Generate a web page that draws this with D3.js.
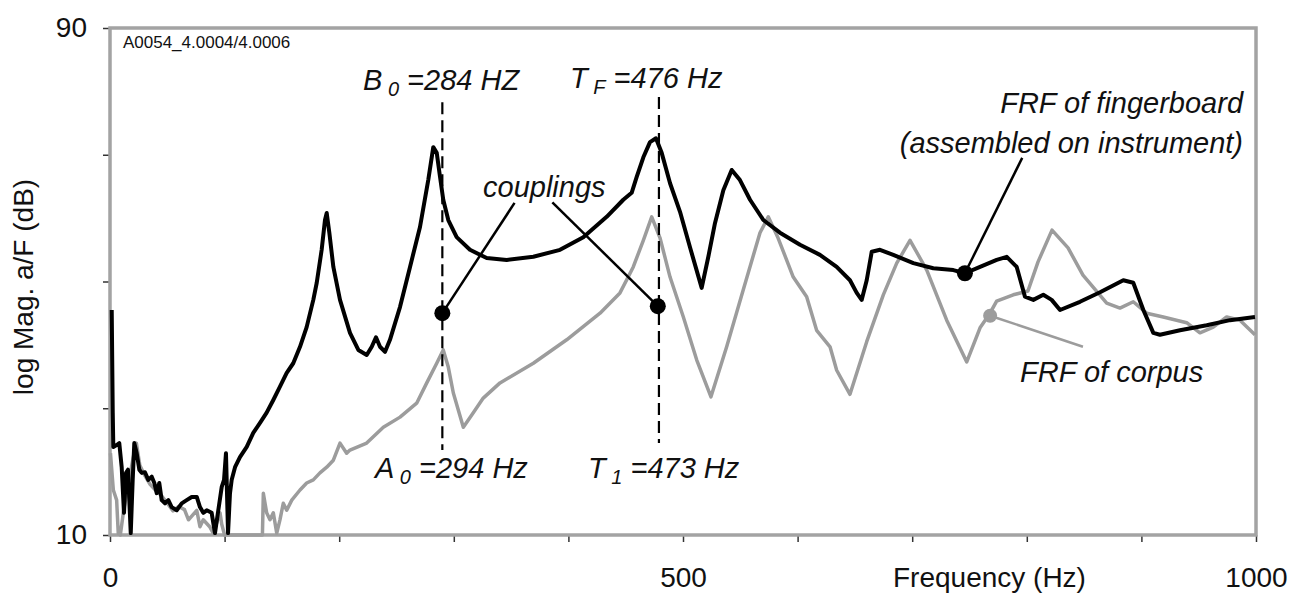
<!DOCTYPE html>
<html>
<head>
<meta charset="utf-8">
<script src="https://cdn.jsdelivr.net/npm/d3@7"></script>
<style>
  body { margin: 0; background: #fff; }
  svg { display: block; font-family: "Liberation Sans", Arial, sans-serif; }
</style>
</head>
<body>
<div id="container"></div>
<script>
// Data (frequency in Hz, magnitude in dB)
const fingerboardHz = [1.5, 2.4, 2.9, 5.8, 8.1, 10.2, 12.2, 14.0, 15.7, 18.1, 19.8, 21.2, 23.3, 25.6, 27.7, 30.5, 33.4, 36.4, 38.7, 40.8, 43.0, 45.1, 48.0, 50.9, 53.8, 58.2, 62.6, 66.9, 71.3, 75.7, 78.5, 81.4, 84.4, 88.7, 91.6, 94.5, 97.5, 99.5, 101.2, 103.0, 104.7, 106.2, 109.1, 113.4, 119.3, 125.0, 130.9, 136.7, 142.5, 148.3, 154.2, 159.9, 165.8, 171.6, 177.4, 180.4, 184.7, 187.6, 189.1, 191.4, 194.9, 200.7, 209.4, 216.7, 224.0, 228.4, 232.1, 235.6, 240.0, 244.3, 253.1, 261.8, 270.5, 277.7, 282.1, 285.1, 288.0, 290.8, 295.2, 302.5, 314.1, 328.7, 346.2, 369.4, 392.7, 413.0, 433.4, 447.9, 455.2, 459.6, 465.4, 471.2, 476.4, 481.4, 488.7, 497.4, 506.1, 516.3, 522.1, 527.9, 535.2, 542.5, 549.7, 558.5, 570.1, 584.6, 602.1, 619.5, 634.1, 645.7, 651.6, 655.9, 660.3, 664.7, 671.9, 683.5, 701.0, 718.4, 735.9, 746.1, 759.2, 773.7, 782.5, 791.2, 798.4, 805.7, 814.4, 821.7, 829.0, 846.4, 863.9, 884.2, 892.9, 901.7, 910.4, 916.2, 933.7, 957.0, 977.3, 999.1];
const fingerboardDb = [45.5, 29.3, 23.9, 24.2, 24.5, 20.7, 13.5, 19.8, 20.3, 10.3, 18.7, 24.5, 22.9, 20.3, 19.8, 19.9, 18.7, 19.2, 18.2, 16.6, 18.2, 15.5, 15.0, 15.5, 14.4, 13.9, 15.0, 15.5, 16.0, 16.0, 14.4, 13.5, 13.9, 13.5, 10.3, 13.9, 17.6, 18.7, 22.9, 10.3, 16.6, 18.7, 20.7, 22.3, 23.9, 26.1, 27.7, 29.3, 31.3, 33.4, 35.6, 37.1, 39.7, 42.8, 47.1, 49.8, 55.0, 59.7, 60.8, 57.7, 52.3, 47.1, 41.9, 39.2, 38.4, 39.7, 41.2, 39.7, 38.9, 40.8, 46.0, 52.3, 58.6, 66.0, 71.2, 70.3, 66.5, 62.9, 59.7, 57.0, 55.0, 53.7, 53.4, 53.9, 55.0, 57.0, 60.2, 62.9, 64.0, 66.5, 69.6, 72.0, 72.6, 70.3, 65.5, 61.0, 55.4, 49.0, 53.9, 59.2, 64.4, 67.6, 66.0, 62.9, 59.7, 57.7, 55.8, 54.2, 52.3, 50.2, 48.2, 47.1, 50.2, 54.7, 55.0, 54.2, 52.9, 52.1, 51.8, 51.3, 52.3, 53.4, 53.9, 52.3, 47.6, 47.1, 47.9, 47.1, 45.5, 46.8, 48.3, 50.2, 49.8, 45.5, 41.9, 41.6, 42.3, 43.1, 43.9, 44.4];

const corpusHz = [0.4, 2.9, 5.8, 7.2, 9, 12, 16, 20, 23, 26, 30, 35, 40, 45, 50, 55, 60, 65, 68.5, 75.7, 78.5, 81.4, 87, 90, 96, 97.5, 100, 133, 133.8, 136.7, 139.6, 142.5, 145.5, 148.3, 151.2, 154.2, 158.6, 165.8, 171.6, 177.4, 183.2, 189.1, 194.9, 200.7, 206.5, 209.4, 224.0, 238.5, 253.1, 267.6, 276.4, 285.1, 290.8, 295.2, 299.6, 308.3, 317.0, 325.7, 340.3, 369.4, 398.5, 427.6, 445.0, 456.6, 465.4, 472.7, 479.9, 488.7, 500.3, 512.0, 524.4, 538.1, 552.6, 567.2, 574.4, 582.9, 596.2, 607.9, 616.6, 628.3, 634.1, 645.7, 660.3, 674.8, 686.5, 698.1, 712.7, 730.1, 747.6, 759.2, 767.9, 773.7, 788.2, 801.0, 809.8, 822.0, 836.0, 849.0, 869.7, 881.3, 892.9, 904.6, 919.1, 939.5, 951.1, 962.7, 974.4, 986.0, 999.1];
const corpusDb = [22.9, 17.1, 15.5, 10.3, 10, 14, 18, 22, 24.5, 21, 19.5, 18, 17, 16.2, 15, 13.8, 14.5, 14, 12.4, 13.9, 11.3, 12.4, 11.3, 10.3, 13.5, 11.7, 10, 10, 16.6, 13.5, 12.4, 13.5, 10.3, 12.4, 15.0, 13.9, 15.5, 17.1, 18.2, 18.7, 19.8, 20.7, 21.8, 24.5, 22.9, 23.4, 24.5, 27.0, 28.6, 30.8, 34.0, 37.1, 39.2, 36.5, 32.4, 27.0, 29.3, 31.6, 34.0, 37.1, 40.8, 45.0, 48.2, 52.3, 56.5, 60.2, 56.9, 50.7, 44.4, 37.6, 31.8, 39.7, 48.7, 57.7, 60.2, 56.9, 50.7, 47.6, 42.3, 39.7, 36.0, 32.2, 40.5, 47.9, 52.9, 56.5, 51.8, 43.9, 37.3, 42.7, 45.0, 46.9, 47.9, 48.5, 53.1, 58.1, 55.3, 51.0, 46.6, 45.8, 46.8, 45.0, 44.4, 43.5, 41.9, 42.8, 44.4, 43.9, 41.6];

// Axis ticks
const xTicks = [0, 100, 200, 300, 400, 500, 600, 700, 800, 900, 1000];
const xTickLabels = [0, 500, 1000];
const yTicks = [10, 30, 50, 70, 90];
const yTickLabels = [10, 90];

// Coupling / marker points
const couplingHz = [290, 478];
const couplingDb = [45.0, 46.1];
const fingerboardDot = [746, 51.3];
const corpusDot = [768, 44.6];

// Dashed mode lines: [Hz, top dB, bottom dB]
const modeLines = [[290, 78.3, 23.4], [479, 79.1, 24.5]];

const width = 1301, height = 594;
const margin = { top: 28, right: 45, bottom: 59, left: 110 };

const svg = d3.select("#container").append("svg")
  .attr("width", width)
  .attr("height", height);

svg.append("rect").attr("width", width).attr("height", height).attr("fill", "#fff");

const x = d3.scaleLinear().domain([0, 1000]).range([margin.left, width - margin.right]);
const y = d3.scaleLinear().domain([10, 90]).range([height - margin.bottom, margin.top]);

// axes (ticks only, frame drawn separately)
const xAxis = svg.append("g")
  .attr("transform", "translate(0," + y(10) + ")")
  .call(d3.axisBottom(x).tickValues(xTicks).tickSize(7).tickPadding(25)
    .tickFormat(d => xTickLabels.includes(d) ? d : ""));
const yAxis = svg.append("g")
  .attr("transform", "translate(" + x(0) + ",0)")
  .call(d3.axisLeft(y).tickValues(yTicks).tickSize(7).tickPadding(16)
    .tickFormat(d => yTickLabels.includes(d) ? d : ""));
[xAxis, yAxis].forEach(g => {
  g.select(".domain").remove();
  g.selectAll("line").attr("stroke", "#333").attr("stroke-width", 1.5);
  g.selectAll("text").attr("font-size", 28).attr("fill", "#111")
    .attr("font-family", "'Liberation Sans', Arial, sans-serif");
});

// frame
svg.append("rect")
  .attr("x", x(0)).attr("y", y(90))
  .attr("width", x(1000) - x(0)).attr("height", y(10) - y(90))
  .attr("fill", "none").attr("stroke", "#a3a3a3").attr("stroke-width", 3.5);

const line = d3.line().x(d => x(d[0])).y(d => y(d[1]));

svg.append("path")
  .datum(d3.zip(corpusHz, corpusDb))
  .attr("d", line)
  .attr("fill", "none").attr("stroke", "#9c9c9c").attr("stroke-width", 3.5)
  .attr("stroke-linejoin", "round");

svg.append("path")
  .datum(d3.zip(fingerboardHz, fingerboardDb))
  .attr("d", line)
  .attr("fill", "none").attr("stroke", "#000").attr("stroke-width", 4)
  .attr("stroke-linejoin", "round");

// dashed lines
svg.selectAll(".mode")
  .data(modeLines)
  .enter().append("line")
  .attr("x1", d => x(d[0])).attr("x2", d => x(d[0]))
  .attr("y1", d => y(d[1])).attr("y2", d => y(d[2]))
  .attr("stroke", "#000").attr("stroke-width", 2.2)
  .attr("stroke-dasharray", "12,6");

// leader lines
const leaders = [
  { from: [353, 62.4], to: [couplingHz[0], couplingDb[0]], color: "#000" },
  { from: [386, 62.5], to: [couplingHz[1], couplingDb[1]], color: "#000" },
  { from: [796, 69.5], to: fingerboardDot, color: "#000" },
  { from: [849, 39.7], to: corpusDot, color: "#9c9c9c" }
];
svg.selectAll(".leader")
  .data(leaders)
  .enter().append("line")
  .attr("x1", d => x(d.from[0])).attr("y1", d => y(d.from[1]))
  .attr("x2", d => x(d.to[0])).attr("y2", d => y(d.to[1]))
  .attr("stroke", d => d.color).attr("stroke-width", 2.5);

// dots
svg.selectAll(".dot")
  .data(d3.zip(couplingHz, couplingDb).concat([fingerboardDot]))
  .enter().append("circle")
  .attr("cx", d => x(d[0])).attr("cy", d => y(d[1])).attr("r", 8)
  .attr("fill", "#000");
svg.append("circle")
  .attr("cx", x(corpusDot[0])).attr("cy", y(corpusDot[1])).attr("r", 7)
  .attr("fill", "#9c9c9c");

// text annotations
function label(hz, db, main, sub, rest, anchor) {
  const t = svg.append("text")
    .attr("x", x(hz)).attr("y", y(db))
    .attr("font-size", 29).attr("font-style", "italic").attr("fill", "#111")
    .attr("text-anchor", anchor || "start");
  t.append("tspan").text(main);
  if (sub) {
    t.append("tspan").attr("font-size", 20).attr("dy", 6).text(" " + sub);
    t.append("tspan").attr("dy", -6).text(" " + rest);
  }
  return t;
}
label(220.8, 80.2, "B", "0", "=284 HZ");
label(401.4, 80.5, "T", "F", "=476 Hz");
label(231.2, 19.0, "A", "0", "=294 Hz");
label(417.1, 19.0, "T", "1", "=473 Hz");
label(325.5, 63.3, "couplings");
label(988.7, 76.6, "FRF of fingerboard", null, null, "end");
label(988.7, 70.3, "(assembled on instrument)", null, null, "end");
label(794.1, 34.1, "FRF of corpus");

svg.append("text")
  .attr("x", x(11.3)).attr("y", y(86.8))
  .attr("font-size", 17).attr("fill", "#111")
  .text("A0054_4.0004/4.0006");

// axis titles
svg.append("text")
  .attr("x", 893).attr("y", 587)
  .attr("font-size", 28).attr("fill", "#111")
  .text("Frequency (Hz)");

svg.append("text")
  .attr("transform", "translate(33,287) rotate(-90)")
  .attr("text-anchor", "middle")
  .attr("font-size", 28).attr("fill", "#111")
  .text("log Mag. a/F (dB)");
</script>
</body>
</html>
